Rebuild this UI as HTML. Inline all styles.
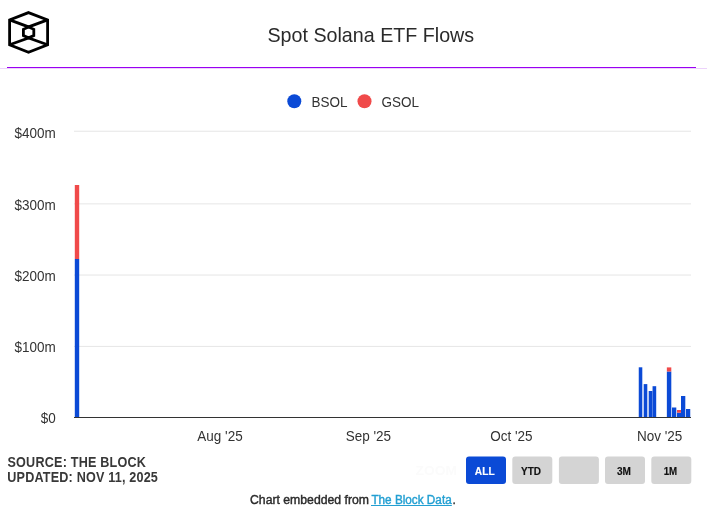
<!DOCTYPE html>
<html><head><meta charset="utf-8">
<style>
html,body{margin:0;padding:0;background:#fff;width:707px;height:508px;overflow:hidden;}
svg{display:block;font-family:"Liberation Sans",sans-serif;will-change:transform;}
</style></head>
<body>
<svg width="707" height="508" viewBox="0 0 707 508">
<g fill="none" stroke="#000" stroke-width="2.8" stroke-linejoin="miter">
<path d="M28.5 12.6 L47.6 19.9 L47.6 44.8 L28.5 52.3 L9.6 44.8 L9.6 19.9 Z"/>
<path d="M9.6 19.9 L28.6 26.9 L47.6 19.9"/>
<path d="M9.6 44.8 L28.6 38.0 L47.6 44.8"/>
<path d="M28.6 27.0 L33.8 29.3 L33.8 35.6 L28.6 37.9 L23.4 35.6 L23.4 29.3 Z"/>
</g>
<text transform="translate(370.8,41.6) scale(1,1.02)" font-size="19.7" fill="#2a2a2a" text-anchor="middle">Spot Solana ETF Flows</text>
<rect x="0" y="68" width="707" height="1" fill="#ecd2fb"/>
<rect x="7" y="67" width="689" height="1" fill="#9a00f2"/>
<circle cx="294.3" cy="101.3" r="7" fill="#0b4ad6"/>
<text transform="translate(311.4,107) scale(1,1.08)" font-size="13.5" fill="#333" text-anchor="start">BSOL</text>
<circle cx="364.5" cy="101.3" r="7" fill="#f04a4a"/>
<text transform="translate(381.4,107) scale(1,1.08)" font-size="13.5" fill="#333" text-anchor="start">GSOL</text>
<rect x="74" y="130.73" width="617" height="1" fill="#e6e6e6"/>
<rect x="74" y="203.36" width="617" height="1" fill="#e6e6e6"/>
<rect x="74" y="274.54" width="617" height="1" fill="#e6e6e6"/>
<rect x="74" y="345.91" width="617" height="1" fill="#e6e6e6"/>
<text transform="translate(55.8,137.7) scale(1,1.08)" font-size="13.5" fill="#333" text-anchor="end">$400m</text>
<text transform="translate(55.8,209.6) scale(1,1.08)" font-size="13.5" fill="#333" text-anchor="end">$300m</text>
<text transform="translate(55.8,281) scale(1,1.08)" font-size="13.5" fill="#333" text-anchor="end">$200m</text>
<text transform="translate(55.8,351.8) scale(1,1.08)" font-size="13.5" fill="#333" text-anchor="end">$100m</text>
<text transform="translate(55.8,423) scale(1,1.08)" font-size="13.5" fill="#333" text-anchor="end">$0</text>
<rect x="74" y="259" width="1" height="158.00" fill="#0b4ad6" fill-opacity="0.2"/><rect x="74" y="185" width="1" height="74.00" fill="#f04a4a" fill-opacity="0.2"/><rect x="75" y="259" width="1" height="158.00" fill="#0b4ad6"/><rect x="75" y="185" width="1" height="74.00" fill="#f04a4a"/><rect x="76" y="259" width="1" height="158.00" fill="#0b4ad6"/><rect x="76" y="185" width="1" height="74.00" fill="#f04a4a"/><rect x="77" y="259" width="1" height="158.00" fill="#0b4ad6"/><rect x="77" y="185" width="1" height="74.00" fill="#f04a4a"/><rect x="78" y="259" width="1" height="158.00" fill="#0b4ad6"/><rect x="78" y="185" width="1" height="74.00" fill="#f04a4a"/><rect x="79" y="259" width="1" height="158.00" fill="#0b4ad6" fill-opacity="0.2"/><rect x="79" y="185" width="1" height="74.00" fill="#f04a4a" fill-opacity="0.2"/>
<rect x="638" y="367.3" width="1" height="49.70" fill="#0b4ad6" fill-opacity="0.25"/><rect x="639" y="367.3" width="1" height="49.70" fill="#0b4ad6"/><rect x="640" y="367.3" width="1" height="49.70" fill="#0b4ad6"/><rect x="641" y="367.3" width="1" height="49.70" fill="#0b4ad6"/><rect x="642" y="367.3" width="1" height="49.70" fill="#0b4ad6" fill-opacity="0.3"/>
<rect x="643" y="384.1" width="1" height="32.90" fill="#0b4ad6" fill-opacity="0.3"/><rect x="644" y="384.1" width="1" height="32.90" fill="#0b4ad6"/><rect x="645" y="384.1" width="1" height="32.90" fill="#0b4ad6"/><rect x="646" y="384.1" width="1" height="32.90" fill="#0b4ad6"/><rect x="647" y="384.1" width="1" height="32.90" fill="#0b4ad6" fill-opacity="0.3"/>
<rect x="648" y="391" width="1" height="26.00" fill="#0b4ad6" fill-opacity="0.3"/><rect x="649" y="391" width="1" height="26.00" fill="#0b4ad6"/><rect x="650" y="391" width="1" height="26.00" fill="#0b4ad6"/><rect x="651" y="391" width="1" height="26.00" fill="#0b4ad6"/><rect x="652" y="391" width="1" height="26.00" fill="#0b4ad6" fill-opacity="0.45"/>
<rect x="652" y="386.2" width="1" height="30.80" fill="#0b4ad6" fill-opacity="0.45"/><rect x="653" y="386.2" width="1" height="30.80" fill="#0b4ad6"/><rect x="654" y="386.2" width="1" height="30.80" fill="#0b4ad6"/><rect x="655" y="386.2" width="1" height="30.80" fill="#0b4ad6"/><rect x="656" y="386.2" width="1" height="30.80" fill="#0b4ad6" fill-opacity="0.2"/>
<rect x="666" y="371.5" width="1" height="45.50" fill="#0b4ad6" fill-opacity="0.15"/><rect x="666" y="367.4" width="1" height="4.10" fill="#f04a4a" fill-opacity="0.15"/><rect x="667" y="371.5" width="1" height="45.50" fill="#0b4ad6"/><rect x="667" y="367.4" width="1" height="4.10" fill="#f04a4a"/><rect x="668" y="371.5" width="1" height="45.50" fill="#0b4ad6"/><rect x="668" y="367.4" width="1" height="4.10" fill="#f04a4a"/><rect x="669" y="371.5" width="1" height="45.50" fill="#0b4ad6"/><rect x="669" y="367.4" width="1" height="4.10" fill="#f04a4a"/><rect x="670" y="371.5" width="1" height="45.50" fill="#0b4ad6"/><rect x="670" y="367.4" width="1" height="4.10" fill="#f04a4a"/><rect x="671" y="371.5" width="1" height="45.50" fill="#0b4ad6" fill-opacity="0.3"/><rect x="671" y="367.4" width="1" height="4.10" fill="#f04a4a" fill-opacity="0.3"/>
<rect x="672" y="407.5" width="1" height="9.50" fill="#0b4ad6"/><rect x="673" y="407.5" width="1" height="9.50" fill="#0b4ad6"/><rect x="674" y="407.5" width="1" height="9.50" fill="#0b4ad6"/><rect x="675" y="407.5" width="1" height="9.50" fill="#0b4ad6"/><rect x="676" y="407.5" width="1" height="9.50" fill="#0b4ad6" fill-opacity="0.3"/>
<rect x="677" y="412.7" width="1" height="4.30" fill="#0b4ad6"/><rect x="677" y="410" width="1" height="2.70" fill="#f04a4a"/><rect x="678" y="412.7" width="1" height="4.30" fill="#0b4ad6"/><rect x="678" y="410" width="1" height="2.70" fill="#f04a4a"/><rect x="679" y="412.7" width="1" height="4.30" fill="#0b4ad6"/><rect x="679" y="410" width="1" height="2.70" fill="#f04a4a"/><rect x="680" y="412.7" width="1" height="4.30" fill="#0b4ad6"/><rect x="680" y="410" width="1" height="2.70" fill="#f04a4a"/>
<rect x="681" y="396" width="1" height="21.00" fill="#0b4ad6"/><rect x="682" y="396" width="1" height="21.00" fill="#0b4ad6"/><rect x="683" y="396" width="1" height="21.00" fill="#0b4ad6"/><rect x="684" y="396" width="1" height="21.00" fill="#0b4ad6"/><rect x="685" y="396" width="1" height="21.00" fill="#0b4ad6" fill-opacity="0.3"/>
<rect x="686" y="409" width="1" height="8.00" fill="#0b4ad6"/><rect x="687" y="409" width="1" height="8.00" fill="#0b4ad6"/><rect x="688" y="409" width="1" height="8.00" fill="#0b4ad6"/><rect x="689" y="409" width="1" height="8.00" fill="#0b4ad6"/><rect x="690" y="409" width="1" height="8.00" fill="#0b4ad6" fill-opacity="0.25"/>
<rect x="74" y="417" width="617" height="1" fill="#333"/>
<text transform="translate(220,441) scale(1,1.08)" font-size="13.5" fill="#333" text-anchor="middle">Aug '25</text>
<text transform="translate(368.3,441) scale(1,1.08)" font-size="13.5" fill="#333" text-anchor="middle">Sep '25</text>
<text transform="translate(511.4,441) scale(1,1.08)" font-size="13.5" fill="#333" text-anchor="middle">Oct '25</text>
<text transform="translate(659.6,441) scale(1,1.08)" font-size="13.5" fill="#333" text-anchor="middle">Nov '25</text>
<g font-size="12.6" font-weight="bold" fill="#383838"><text transform="translate(7.5,466.9) scale(1,1.13)" textLength="138.4" lengthAdjust="spacing">SOURCE: THE BLOCK</text><text transform="translate(7.3,482.3) scale(1,1.13)" textLength="150.6" lengthAdjust="spacing">UPDATED: NOV 11, 2025</text></g>
<text x="415.5" y="474.7" font-size="13" font-weight="bold" fill="#fbfbfb" textLength="41.5" lengthAdjust="spacingAndGlyphs">ZOOM</text>
<rect x="466" y="456.5" width="40" height="27.5" rx="3" fill="#0b4ad6"/>
<text x="474.85" y="475" font-size="10.4" font-weight="bold" fill="#fff" stroke="#fff" stroke-width="0.15" textLength="19.8" lengthAdjust="spacingAndGlyphs">ALL</text>
<rect x="512.3" y="456.5" width="40" height="27.5" rx="3" fill="#d4d4d4"/>
<text x="521" y="475" font-size="10.4" font-weight="bold" fill="#111" stroke="#111" stroke-width="0.15" textLength="20" lengthAdjust="spacingAndGlyphs">YTD</text>
<rect x="558.9" y="456.5" width="40" height="27.5" rx="3" fill="#d4d4d4"/>
<rect x="605" y="456.5" width="40" height="27.5" rx="3" fill="#d4d4d4"/>
<text x="617" y="475" font-size="10.4" font-weight="bold" fill="#111" stroke="#111" stroke-width="0.15" textLength="14" lengthAdjust="spacingAndGlyphs">3M</text>
<rect x="651.3" y="456.5" width="40" height="27.5" rx="3" fill="#d4d4d4"/>
<text x="663.7" y="475" font-size="10.4" font-weight="bold" fill="#111" stroke="#111" stroke-width="0.15" textLength="13.5" lengthAdjust="spacingAndGlyphs">1M</text>
<g font-size="12" stroke-width="0.4"><text x="250" y="503.7" fill="#2a2a2a" stroke="#2a2a2a" textLength="119" lengthAdjust="spacingAndGlyphs">Chart embedded from</text><text x="371.4" y="503.7" fill="#229fd2" stroke="#229fd2" textLength="80.3" lengthAdjust="spacingAndGlyphs">The Block Data</text><rect x="371" y="505" width="80.8" height="1" fill="#229fd2" stroke="none"/><text x="452.4" y="503.7" fill="#333" stroke="#333">.</text></g>
</svg>
</body></html>
